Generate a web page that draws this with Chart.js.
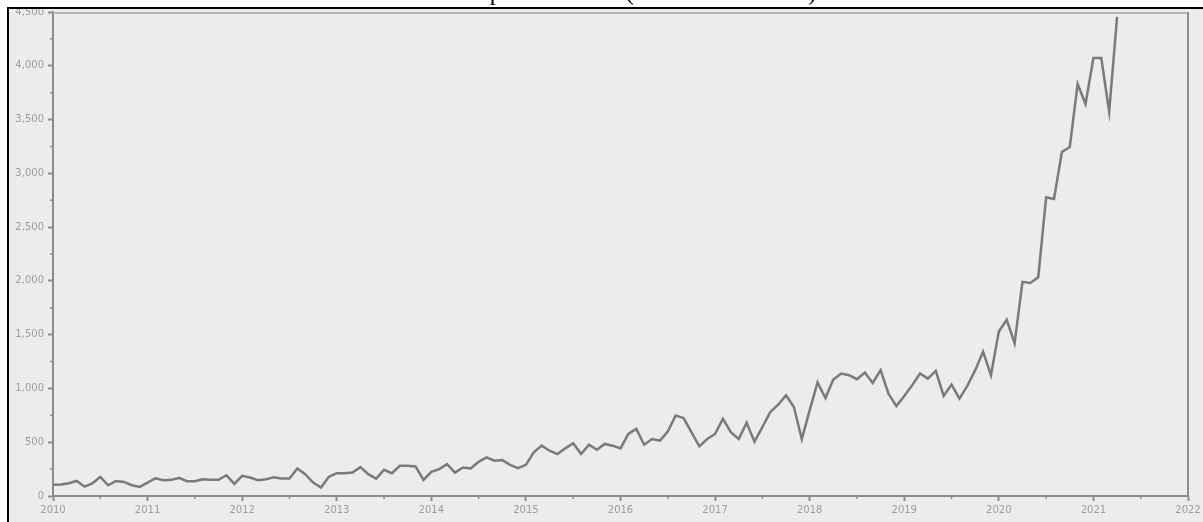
<!DOCTYPE html>
<html>
<head>
<meta charset="utf-8">
<script src="https://cdn.jsdelivr.net/npm/chart.js@4.4.1/dist/chart.umd.min.js"></script>
<style>
  html, body { margin: 0; padding: 0; background: #fff; overflow: hidden; }
  body { width: 1203px; height: 522px; position: relative; }
  #title {
    position: absolute; left: 0; top: -20px; width: 1203px;
    font: 24px "Liberation Serif", "Times New Roman", serif;
    line-height: 24px; text-align: center; color: #000; white-space: nowrap;
    padding-left: 20px; box-sizing: border-box;
  }
  #frame {
    position: absolute; left: 7px; top: 7px; width: 1196px; height: 515px;
    border-top: 2px solid #000; border-left: 2px solid #000;
    background: #ececec; box-sizing: border-box; z-index: 2;
  }
  #wrap { position: absolute; left: 0; top: 0; width: 1194px; height: 513px; }
</style>
</head>
<body>
<div id="title">Total Deposit Amount (in USD thousands)</div>
<div id="frame"><div id="wrap"><canvas id="chart"></canvas></div></div>
<script>
// monthly values, Jan 2010 .. Apr 2021
const startYear = 2010;
const values2010 = [105, 106, 118, 140, 87, 118, 178, 100, 140, 131, 100, 84];
const values2011 = [125, 165, 147, 150, 168, 137, 137, 156, 150, 150, 193, 112];
const values2012 = [187, 172, 147, 156, 175, 162, 162, 256, 203, 125, 78, 178];
const values2013 = [212, 212, 218, 268, 203, 162, 243, 212, 281, 281, 275, 150];
const values2014 = [225, 250, 296, 218, 265, 256, 318, 359, 328, 334, 290, 259];
const values2015 = [290, 406, 468, 421, 390, 443, 490, 390, 477, 430, 484, 468];
const values2016 = [443, 577, 624, 477, 530, 515, 599, 749, 724, 593, 462, 530];
const values2017 = [577, 718, 593, 530, 680, 505, 640, 780, 849, 936, 827, 530];
const values2018 = [796, 1055, 911, 1083, 1139, 1123, 1086, 1148, 1051, 1170, 952, 836];
const values2019 = [930, 1030, 1139, 1092, 1164, 930, 1036, 905, 1023, 1170, 1342, 1123];
const values2020 = [1529, 1638, 1420, 1991, 1981, 2034, 2777, 2761, 3198, 3245, 3831, 3644];
const values2021 = [4072, 4072, 3572, 4455];

const yearTicks = [2010, 2011, 2012, 2013, 2014, 2015, 2016, 2017, 2018, 2019, 2020, 2021, 2022];
const yTicks = [0, 500, 1000, 1500, 2000, 2500, 3000, 3500, 4000, 4500];

const allValues = [].concat(values2010, values2011, values2012, values2013, values2014,
  values2015, values2016, values2017, values2018, values2019, values2020, values2021);
const points = allValues.map((v, i) => ({ x: startYear + i / 12, y: v }));

const axisColor = '#8c8c8c';
const labelColor = '#9c9c9c';

// short ticks between the labelled ones + top/right frame of the plot
const frameAndMinorTicks = {
  id: 'frameAndMinorTicks',
  afterDraw(chart) {
    const ctx = chart.ctx;
    const a = chart.chartArea;
    const xs = chart.scales.x, ys = chart.scales.y;
    ctx.save();
    ctx.strokeStyle = '#b4b4b4';
    ctx.lineWidth = 2;
    ctx.beginPath();
    ctx.moveTo(a.left, a.top + 1);
    ctx.lineTo(a.right, a.top + 1);
    ctx.stroke();
    ctx.strokeStyle = axisColor;
    ctx.beginPath();
    ctx.moveTo(a.right, a.top);
    ctx.lineTo(a.right, a.bottom);
    ctx.stroke();
    ctx.lineWidth = 1.5;
    for (let i = 0; i < yTicks.length - 1; i++) {
      const py = ys.getPixelForValue((yTicks[i] + yTicks[i + 1]) / 2);
      ctx.beginPath();
      ctx.moveTo(a.left - 3, py);
      ctx.lineTo(a.left, py);
      ctx.stroke();
    }
    for (let i = 0; i < yearTicks.length - 1; i++) {
      const px = xs.getPixelForValue((yearTicks[i] + yearTicks[i + 1]) / 2);
      ctx.beginPath();
      ctx.moveTo(px, a.bottom);
      ctx.lineTo(px, a.bottom + 3);
      ctx.stroke();
    }
    ctx.restore();
  }
};

new Chart(document.getElementById('chart'), {
  type: 'line',
  data: {
    datasets: [{
      data: points,
      borderColor: '#7a7a7a',
      borderWidth: 2.5,
      pointRadius: 0,
      tension: 0,
      fill: false
    }]
  },
  options: {
    responsive: true,
    maintainAspectRatio: false,
    animation: false,
    events: [],
    layout: { padding: { top: 3, right: 15, left: 0, bottom: 0 } },
    plugins: { legend: { display: false }, tooltip: { enabled: false } },
    scales: {
      x: {
        type: 'linear',
        min: 2010,
        max: 2022,
        afterBuildTicks: s => { s.ticks = yearTicks.map(v => ({ value: v })); },
        afterFit: s => { s.height = 26; s.paddingLeft = 0; s.paddingRight = 0; },
        border: { display: true, color: axisColor, width: 2 },
        grid: { display: true, drawOnChartArea: false, drawTicks: true, tickLength: 5, tickColor: axisColor, tickWidth: 2 },
        ticks: {
          color: labelColor,
          padding: 3,
          maxRotation: 0,
          autoSkip: false,
          font: { family: 'DejaVu Sans', size: 10 },
          callback: v => String(v)
        }
      },
      y: {
        min: 0,
        max: 4500,
        afterBuildTicks: s => { s.ticks = yTicks.map(v => ({ value: v })); },
        afterFit: s => { s.width = 44; s.paddingTop = 0; s.paddingBottom = 0; },
        border: { display: true, color: axisColor, width: 2 },
        grid: { display: true, drawOnChartArea: false, drawTicks: true, tickLength: 5, tickColor: axisColor, tickWidth: 2 },
        ticks: {
          color: labelColor,
          padding: 4,
          font: { family: 'DejaVu Sans', size: 10 },
          callback: v => v.toLocaleString('en-US')
        }
      }
    }
  },
  plugins: [frameAndMinorTicks]
});
</script>
</body>
</html>
